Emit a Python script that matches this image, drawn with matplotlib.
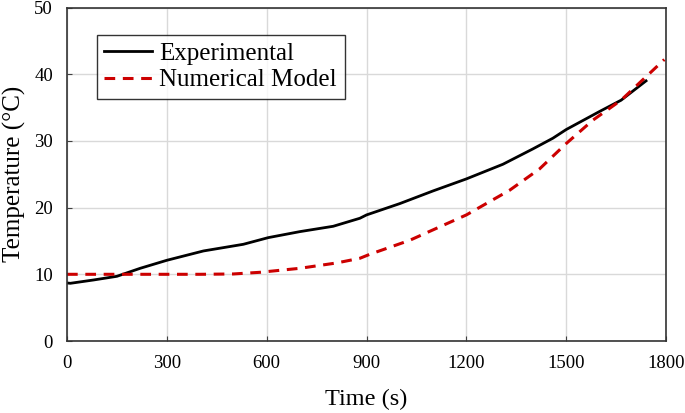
import numpy as np
import matplotlib.pyplot as plt

t_exp = [0, 10, 80, 150, 220, 300, 410, 530, 605, 700, 800, 880, 900, 1000,
         1100, 1200, 1310, 1400, 1460, 1500, 1600, 1665, 1740]
T_exp = [8.7, 8.65, 9.15, 9.7, 10.9, 12.1, 13.5, 14.5, 15.5, 16.4, 17.2, 18.4,
         18.9, 20.6, 22.5, 24.3, 26.5, 28.8, 30.4, 31.7, 34.4, 36.1, 39.0]

# numerical model
t_num = [0, 200, 400, 500, 580, 700, 810, 880, 910, 1030, 1200, 1330, 1420,
         1500, 1580, 1665, 1795]
T_num = [10.0, 10.0, 10.0, 10.05, 10.3, 10.9, 11.7, 12.4, 13.0, 15.1, 18.9,
         22.6, 25.8, 29.6, 33.1, 36.1, 42.2]

plt.rcParams['font.family'] = ['Liberation Serif', 'DejaVu Serif']

fig = plt.figure(figsize=(6.85, 4.13), dpi=100)
ax = fig.add_axes([67/685, (413-341)/413, 599/685, 333.5/413])

ax.plot(t_exp, T_exp, color='black', lw=2, label='Experimental')
ax.plot(t_num, T_num, color='#cc0000', lw=2.2, ls=(0, (3.5, 2.5)), label='Numerical Model')

ax.set_xlim(0, 1800)
ax.set_ylim(0, 50)
ax.set_xticks(np.arange(0, 1801, 300))
ax.set_yticks(np.arange(0, 51, 10))
ax.grid(color='#d9d9d9', lw=1)
ax.set_axisbelow(True)
ax.tick_params(direction='in', labelsize=13.5, length=3.5, color='#404040')
ax.tick_params(axis='x', pad=10)
ax.tick_params(axis='y', pad=10)
for s in ax.spines.values():
    s.set_color('#333333')
    s.set_linewidth(1.2)

ax.set_xlabel('Time (s)', fontsize=17.5, labelpad=12)
ax.set_ylabel('Temperature (°C)', fontsize=18, labelpad=6)

leg = ax.legend(loc='upper left', bbox_to_anchor=(0.05, 0.917), fontsize=18,
                frameon=True, fancybox=False, handlelength=1.9,
                borderpad=0.3, labelspacing=0.15, handletextpad=0.3,
                borderaxespad=0)
leg.get_frame().set_edgecolor('black')
leg.get_frame().set_linewidth(1.0)

fig.savefig('out.png', dpi=100)
